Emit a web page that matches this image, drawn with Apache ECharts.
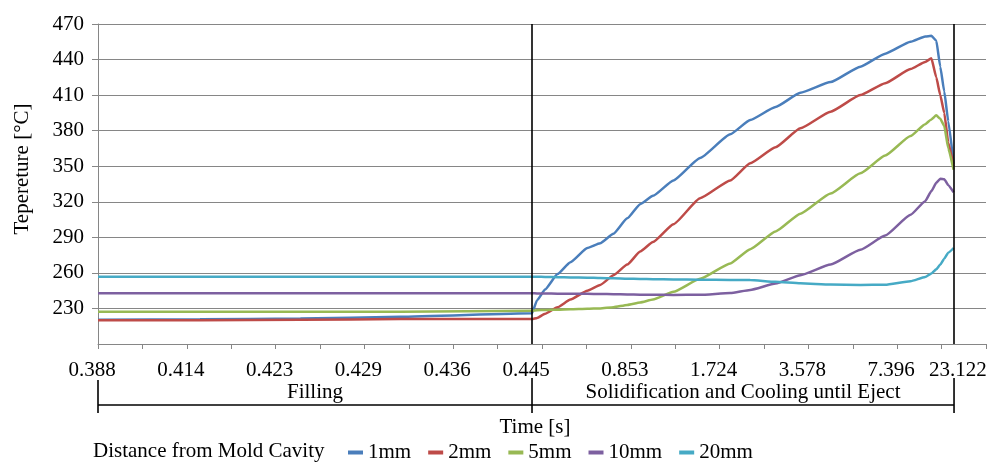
<!DOCTYPE html>
<html><head><meta charset="utf-8">
<script src="https://cdn.jsdelivr.net/npm/echarts@6/dist/echarts.min.js"></script>
<style>html,body{margin:0;padding:0;background:#fff}#c{width:994px;height:462px}</style>
</head><body><div id="c"></div>
<script>
// x positions are in axis "step" units (category-axis positions of the original chart)
const steps = [0, 2.3, 4.56, 6.81, 9.775, 9.89, 10.07, 10.35, 10.64, 11.02, 11.31, 11.61, 11.92, 12.21, 12.5, 12.96,
  13.56, 14.24, 14.69, 15.26, 15.82, 16.5, 17.17, 17.73, 18.3, 18.63, 18.77, 18.88, 18.97, 19.06, 19.15, 19.27];
const tickLabels = ['0.388', '0.414', '0.423', '0.429', '0.436', '0.445', '0.853', '1.724', '3.578', '7.396', '23.122'];
const labelSteps = [0, 2, 4, 6, 8, 9.775, 12, 14, 16, 18, 19.5];
const phaseNames = ['Filling', 'Solidification and Cooling until Eject'];
const phaseBounds = [0, 9.775, 19.28];
const seriesNames = ['1mm', '2mm', '5mm', '10mm', '20mm'];
const temp1mm = [220.5, 220.8, 221.5, 223, 226, 237, 246, 259, 269, 281, 285, 293, 306, 318, 325, 338,
  357, 377, 389, 400, 412, 421, 434, 445, 455, 459.5, 460, 456, 434, 413, 388, 352];
const temp2mm = [220, 220, 220.5, 221, 221, 222, 225.5, 231, 237.5, 245, 249.8, 258, 267, 278, 286, 301,
  323, 338, 352.5, 366, 382, 396, 410, 420, 432, 438, 441, 425, 410, 395, 370, 350];
const temp5mm = [227.3, 227.3, 227.3, 227.3, 228, 228.5, 228.7, 229, 229.3, 229.7, 230, 231, 233, 235, 237.5, 244,
  255, 268, 280, 295, 310, 327, 344, 359, 375.5, 385.5, 389.5, 393, 390, 384, 365, 347];
const temp10mm = [242.8, 242.8, 242.8, 242.8, 242.8, 242.7, 242.6, 242.5, 242.4, 242.3, 242.2, 242, 241.8, 241.6, 241.5, 241.4,
  241.5, 243, 245.6, 251, 258, 267, 279.5, 291.5, 309, 320.5, 329, 336, 339.5, 339, 334, 328];
const temp20mm = [256.8, 256.8, 256.8, 256.8, 256.8, 256.7, 256.6, 256.4, 256.2, 256, 255.7, 255.4, 255.1, 254.9, 254.7, 254.5,
  254.3, 254.1, 254, 252.5, 251.2, 250.2, 249.8, 250, 253, 256.5, 259.5, 263, 267, 272, 277, 281];
const allTemps = [temp1mm, temp2mm, temp5mm, temp10mm, temp20mm];
const colors = ['#4A7EBB', '#BE4B48', '#98B954', '#7D60A0', '#46AAC5'];

const FONT = 'Liberation Serif, Times New Roman, serif';
const chart = echarts.init(document.getElementById('c'), null, {renderer: 'canvas'});

const series = seriesNames.map((n, i) => ({
  name: n, type: 'line', showSymbol: false, symbol: 'none',
  smooth: 0.15, smoothMonotone: 'x',
  data: steps.map((s, k) => [s, allTemps[i][k]]),
  lineStyle: {color: colors[i], width: 2.5},
  itemStyle: {color: colors[i]},
  emphasis: {disabled: true},
  z: 3
}));
series[0].markLine = {
  silent: true, symbol: 'none', animation: false,
  label: {show: false},
  lineStyle: {color: '#000', width: 1.6, type: 'solid'},
  data: [{xAxis: phaseBounds[1]}, {xAxis: phaseBounds[2]}]
};

chart.setOption({
  animation: false,
  grid: {left: 98, right: 8, top: 24, bottom: 118},
  xAxis: {
    type: 'value', min: 0, max: 20, interval: 1,
    axisLine: {lineStyle: {color: '#868686', width: 1}},
    axisTick: {show: true, length: 5, lineStyle: {color: '#868686'},
      customValues: Array.from({length: 21}, (_, i) => i)},
    splitLine: {show: false},
    axisLabel: {
      customValues: labelSteps,
      formatter: v => { const i = labelSteps.findIndex(p => Math.abs(p - v) < 1e-6); return i >= 0 ? tickLabels[i] : ''; },
      margin: 16, fontFamily: FONT, fontSize: 21, color: '#000', padding: [0, 12, 0, 0]
    }
  },
  yAxis: {
    type: 'value', min: 200, max: 470, interval: 30,
    axisLine: {show: true, lineStyle: {color: '#868686', width: 1}},
    axisTick: {show: true, length: 6, lineStyle: {color: '#868686'}},
    splitLine: {show: true, lineStyle: {color: '#868686', width: 1.2}},
    axisLabel: {showMinLabel: false, margin: 14, fontFamily: FONT, fontSize: 21, color: '#000'}
  },
  legend: {
    left: 343, top: 437, icon: 'rect', itemWidth: 15, itemHeight: 4, itemGap: 17,
    textStyle: {fontFamily: FONT, fontSize: 21, color: '#000'},
    data: seriesNames
  },
  series: series
});

const px = t => chart.convertToPixel({gridIndex: 0}, [t, 300])[0];
const x0 = px(phaseBounds[0]), x1 = px(phaseBounds[1]), x2 = px(phaseBounds[2]);
const lineStyle = {stroke: '#000', lineWidth: 1.6};
const txt = (x, y, text, extra) => Object.assign({
  type: 'text', x: x, y: y, silent: true,
  style: {text: text, font: '21px ' + FONT, fill: '#000', align: 'center', verticalAlign: 'middle'}
}, extra || {});
chart.setOption({
  graphic: [
    {type: 'line', silent: true, shape: {x1: x0, y1: 380, x2: x0, y2: 413}, style: lineStyle},
    {type: 'line', silent: true, shape: {x1: x1, y1: 378, x2: x1, y2: 413}, style: lineStyle},
    {type: 'line', silent: true, shape: {x1: x2, y1: 378, x2: x2, y2: 413}, style: lineStyle},
    {type: 'line', silent: true, shape: {x1: x0, y1: 405, x2: x2, y2: 405}, style: lineStyle},
    txt((x0 + x1) / 2, 392, phaseNames[0]),
    txt((x1 + x2) / 2, 392, phaseNames[1]),
    txt(535, 427, 'Time [s]'),
    txt(93, 451, 'Distance from Mold Cavity', {style: {text: 'Distance from Mold Cavity', font: '21px ' + FONT, fill: '#000', align: 'left', verticalAlign: 'middle'}}),
    txt(22, 169, 'Tepereture [°C]', {rotation: Math.PI / 2})
  ]
});
</script>
</body></html>
